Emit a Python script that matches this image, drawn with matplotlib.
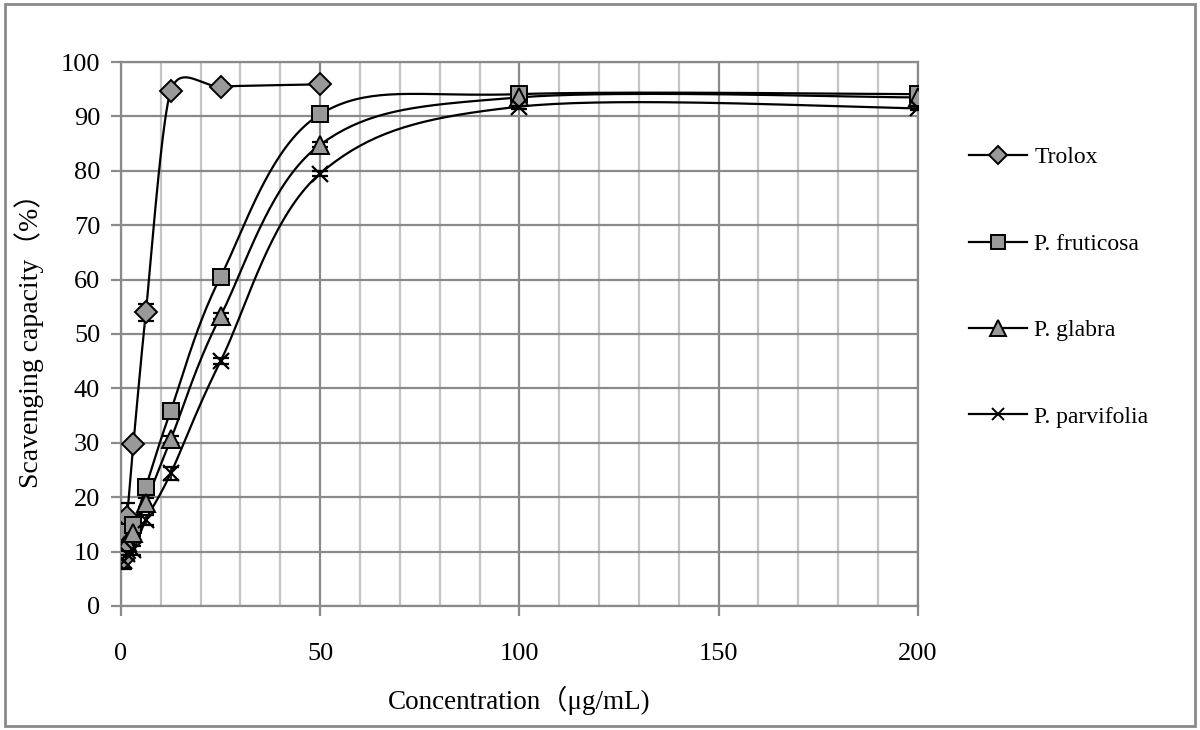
import numpy as np
import matplotlib.pyplot as plt
from matplotlib.patches import Rectangle
from matplotlib.ticker import MultipleLocator

# concentrations (ug/mL)
conc_trolox = [0.78, 1.56, 3.125, 6.25, 12.5, 25, 50]
conc_plant = [0.78, 1.56, 3.125, 6.25, 12.5, 25, 50, 100, 200]

trolox = [8.8, 16.4, 29.8, 54.0, 94.7, 95.5, 95.9]
trolox_err = [2.0, 2.6, 0.6, 1.6, 0.5, 0.3, 0.3]

fruticosa = [12.4, 13.6, 14.9, 21.9, 35.9, 60.5, 90.4, 94.1, 94.1]
fruticosa_err = [0.6, 0.5, 0.6, 0.6, 0.6, 0.5, 0.5, 0.4, 0.4]

glabra = [11.0, 11.8, 13.4, 19.0, 30.6, 53.3, 84.8, 93.5, 93.5]
glabra_err = [0.5, 0.5, 0.6, 0.8, 0.6, 0.5, 0.5, 0.4, 0.4]

parvifolia = [8.2, 9.6, 10.2, 15.8, 24.4, 45.0, 79.5, 91.8, 91.5]
parvifolia_err = [1.2, 0.8, 0.8, 1.0, 1.2, 0.6, 0.5, 0.4, 0.4]

names = ["Trolox", "P. fruticosa", "P. glabra", "P. parvifolia"]


def smooth(xs, ys, n=40, k=6.0):
    # excel-style smoothed line (catmull-rom as cubic bezier)
    p = np.column_stack([xs, ys]).astype(float)
    p = np.vstack([p[0], p, p[-1]])
    out = []
    t = np.linspace(0, 1, n)[:, None]
    for i in range(1, len(p) - 2):
        p0, p3 = p[i], p[i + 1]
        c1 = p0 + (p[i + 1] - p[i - 1]) / k
        c2 = p3 - (p[i + 2] - p[i]) / k
        seg = (1 - t) ** 3 * p0 + 3 * (1 - t) ** 2 * t * c1 + 3 * (1 - t) * t ** 2 * c2 + t ** 3 * p3
        out.append(seg)
    out = np.vstack(out)
    return out[:, 0], out[:, 1]


plt.rcParams['font.family'] = ['Liberation Serif', 'Noto Sans CJK SC']

fig = plt.figure(figsize=(12, 7.3), dpi=100)
ax = fig.add_axes([0.1008, 0.170, 0.664, 0.745])

series = [
    (conc_trolox, trolox, trolox_err, 'D', 11.5, 8.0),
    (conc_plant, fruticosa, fruticosa_err, 's', 12, 6.0),
    (conc_plant, glabra, glabra_err, '^', 13.5, 6.0),
    (conc_plant, parvifolia, parvifolia_err, 'x', 11, 6.0),
]

handles = []
for (xs, ys, err, mk, ms, k), name in zip(series, names):
    sx, sy = smooth(xs, ys, k=k)
    ax.plot(sx, sy, color='black', lw=1.6, zorder=3)
    ax.errorbar(xs, ys, yerr=err, fmt='none', ecolor='black', elinewidth=1.2,
                capsize=6, capthick=1.6, zorder=4)
    if mk == 'x':
        ax.plot(xs, ys, ls='none', marker=mk, ms=ms, mec='black', mew=1.6, zorder=5)
    else:
        ax.plot(xs, ys, ls='none', marker=mk, ms=ms, mfc='#999999', mec='black',
                mew=1.4, zorder=5)
    h, = ax.plot([], [], color='black', lw=1.6, marker=mk, ms=ms - 2,
                 mfc='#999999', mec='black', mew=1.4)
    handles.append(h)

ax.set_xlim(0, 200)
ax.set_ylim(0, 100)
ax.xaxis.set_major_locator(MultipleLocator(50))
ax.xaxis.set_minor_locator(MultipleLocator(10))
ax.yaxis.set_major_locator(MultipleLocator(10))
ax.grid(which='major', axis='both', color='#8a8a8a', lw=1.6, zorder=1)
ax.grid(which='minor', axis='x', color='#c4c4c4', lw=1.6, zorder=1)
ax.set_axisbelow(True)
for s in ax.spines.values():
    s.set_color('#8a8a8a')
    s.set_linewidth(1.6)
ax.tick_params(axis='both', which='major', labelsize=19, color='#8a8a8a',
               width=1.6, length=7, direction='out')
ax.tick_params(axis='x', which='major', pad=20)
ax.tick_params(axis='y', which='major', pad=8)
ax.tick_params(axis='x', which='minor', length=0)

ax.set_xlabel("Concentration（μg/mL)", fontsize=19.5, labelpad=15)
ax.set_ylabel("Scavenging capacity（%）", fontsize=20, labelpad=12)

fig.legend(handles, names, loc='upper left', bbox_to_anchor=(0.79, 0.828),
           frameon=False, fontsize=17, labelspacing=2.75, handlelength=2.45,
           handletextpad=0.3)

fig.patches.append(Rectangle((0.004, 0.006), 0.992, 0.988, transform=fig.transFigure,
                             fill=False, edgecolor='#8a8a8a', lw=2))

fig.savefig('out.png', dpi=100)
